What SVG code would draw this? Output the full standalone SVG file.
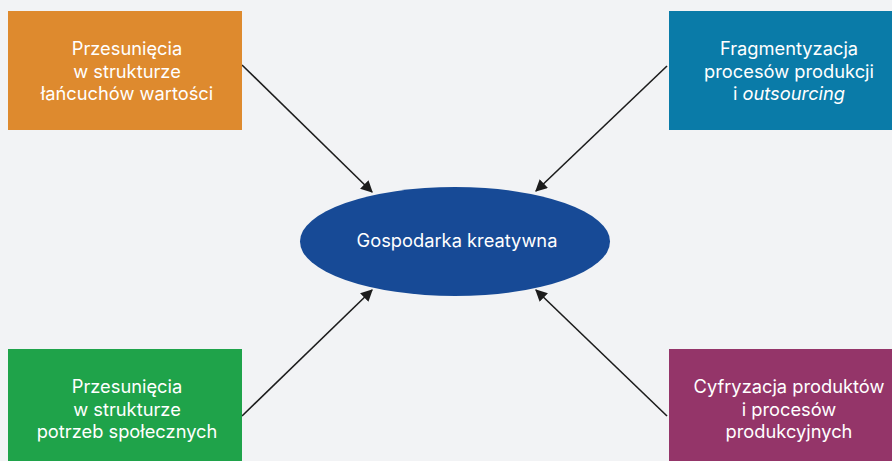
<svg xmlns="http://www.w3.org/2000/svg" width="892" height="461" viewBox="0 0 892 461">
<style>
.t{font-family:Inter,"Noto Sans","Liberation Sans",sans-serif;font-size:18.3px;fill:#ffffff;text-anchor:middle}
.c{stroke:#1c1c1c;stroke-width:1.6;fill:none;marker-end:url(#ah)}
</style>
<defs>
<marker id="ah" viewBox="0 0 10 10" refX="9" refY="5" markerWidth="12" markerHeight="12" markerUnits="userSpaceOnUse" orient="auto">
<path d="M0,0 L10,5 L0,10 Z" fill="#1c1c1c"/>
</marker>
</defs>
<rect width="892" height="461" fill="#f2f3f5"/>
<g id="connectors">
<line class="c" x1="242" y1="65" x2="372" y2="192"/>
<line class="c" x1="667" y1="66" x2="536" y2="191"/>
<line class="c" x1="242" y1="416" x2="372" y2="290"/>
<line class="c" x1="667" y1="416" x2="536" y2="290"/>
</g>
<g id="n1">
<rect x="8" y="11" width="234" height="119" fill="#de8a2e"/>
<text class="t" x="127" y="55">Przesunięcia</text>
<text class="t" x="127" y="77.5">w strukturze</text>
<text class="t" x="127" y="100">łańcuchów wartości</text>
</g>
<g id="n2">
<rect x="669" y="11" width="240" height="119" fill="#0a7ba8"/>
<text class="t" x="789" y="55">Fragmentyzacja</text>
<text class="t" x="789" y="77.5">procesów produkcji</text>
<text class="t" x="789" y="100">i <tspan font-style="italic">outsourcing</tspan></text>
</g>
<g id="n3">
<rect x="8" y="349" width="234" height="120" fill="#1fa34a"/>
<text class="t" x="127" y="393">Przesunięcia</text>
<text class="t" x="127" y="415.5">w strukturze</text>
<text class="t" x="127" y="438">potrzeb społecznych</text>
</g>
<g id="n4">
<rect x="669" y="349" width="240" height="120" fill="#943569"/>
<text class="t" x="789" y="393">Cyfryzacja produktów</text>
<text class="t" x="789" y="415.5">i procesów</text>
<text class="t" x="789" y="438">produkcyjnych</text>
</g>
<g id="center">
<ellipse cx="455" cy="241.5" rx="155" ry="54.5" fill="#174a96"/>
<text class="t" x="457" y="247">Gospodarka kreatywna</text>
</g>
</svg>
